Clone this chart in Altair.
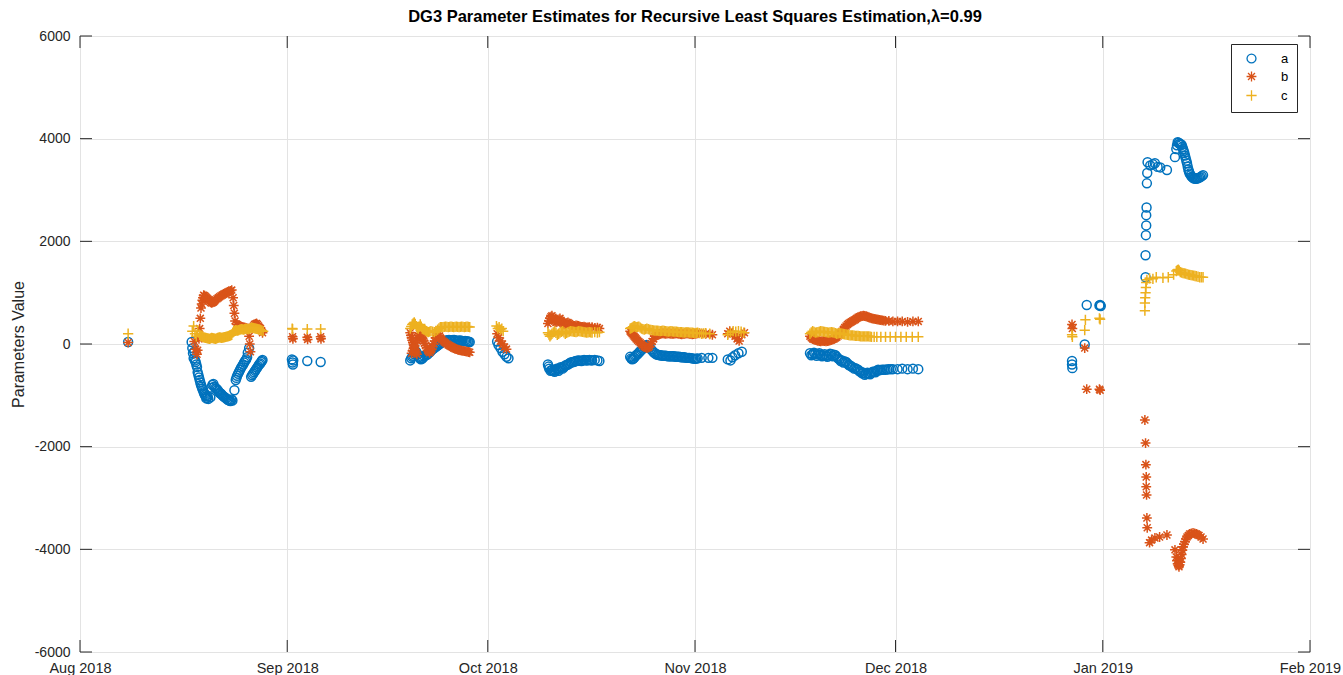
import altair as alt
import pandas as pd

# ---------------- data (day offset from 2018-08-01 00:00 UTC, value) ----------------
A_POINTS = [
    (7.2, 40),
    (16.7, 40), (16.8, -80), (16.9, -180), (17.0, -280), (17.1, -150), (17.3, -350), (17.5, -450),
    (17.6, -550), (17.8, -650), (18.0, -750), (18.2, -830), (18.4, -900), (18.6, -970), (18.8, -1020),
    (19.0, -1050), (19.2, -1070), (19.5, -1040), (19.8, -800), (20.1, -830), (20.4, -870), (20.7, -920),
    (21.0, -960), (21.3, -1000), (21.6, -1030), (21.9, -1060), (22.2, -1090), (22.5, -1110), (22.8, -1100),
    (23.1, -900), (23.3, -700), (23.5, -620), (23.8, -540), (24.1, -460), (24.4, -400), (24.7, -330),
    (25.0, -260), (25.1, -170), (25.3, -80), (25.6, -640), (25.9, -580), (26.2, -520), (26.5, -460),
    (26.8, -400), (27.1, -350), (27.3, -310),
    (17.2, -320), (17.4, -400), (17.7, -600), (17.9, -700), (18.1, -800), (18.3, -870), (18.5, -940),
    (18.7, -1000), (18.9, -1060), (19.1, -1020), (19.65, -850), (19.95, -780), (20.25, -860), (20.55, -890),
    (20.85, -950), (21.15, -980), (21.45, -1020), (21.75, -1050), (22.05, -1080), (22.35, -1100),
    (22.65, -1080), (23.4, -660), (23.65, -580), (23.95, -500), (24.25, -430), (24.55, -360), (24.85, -300),
    (25.75, -610), (26.05, -550), (26.35, -490), (26.65, -430), (26.95, -380), (27.2, -330),
    (31.7, -300), (31.8, -360), (31.85, -400), (31.9, -320), (34.0, -330), (36.0, -350),
    (49.4, -320), (49.7, -250), (50.0, -200), (50.3, -150), (50.7, -250), (51.0, -300), (51.3, -270),
    (51.7, -220), (52.0, -200), (52.4, -150), (52.8, -100), (53.2, -60), (53.6, -20), (54.0, 20),
    (54.4, 50), (54.8, 70), (55.2, 80), (55.6, 70), (56.0, 80), (56.4, 60), (56.8, 70), (57.2, 60),
    (57.6, 60), (58.0, 50), (58.3, 40),
    (49.55, -280), (49.85, -230), (50.15, -170), (50.5, -200), (50.85, -280), (51.15, -290), (51.5, -240),
    (51.85, -210), (52.2, -170), (52.6, -120), (53.0, -80), (53.4, -40), (53.8, 0), (54.2, 40), (54.6, 60),
    (55.0, 75), (55.4, 75), (55.8, 80), (56.2, 70), (56.6, 65), (57.0, 65), (57.4, 55), (57.8, 55),
    (58.15, 45),
    (62.4, 50), (62.6, -20), (62.9, -80), (63.2, -150), (63.5, -200), (63.8, -250), (64.1, -280),
    (70.0, -400), (70.2, -480), (70.4, -520), (70.7, -500), (71.0, -540), (71.3, -480), (71.6, -520),
    (71.9, -450), (72.2, -480), (72.6, -420), (73.0, -400), (73.4, -360), (73.8, -350), (74.2, -330),
    (74.6, -320), (75.0, -330), (75.4, -310), (75.8, -320), (76.2, -310), (76.6, -320), (77.0, -310),
    (77.4, -320), (77.7, -330),
    (70.1, -440), (70.55, -510), (70.85, -520), (71.15, -510), (71.45, -500), (71.75, -480), (72.05, -460),
    (72.4, -450), (72.8, -410), (73.2, -380), (73.6, -355), (74.0, -340), (74.4, -325), (74.8, -325),
    (75.2, -320), (75.6, -315), (76.0, -315), (76.4, -315),
    (82.3, -250), (82.6, -300), (82.9, -270), (83.2, -220), (83.6, -170), (84.0, -120), (84.4, -60),
    (84.8, -20), (85.2, -60), (85.6, -130), (86.0, -180), (86.4, -210), (86.8, -220), (87.2, -230),
    (87.6, -230), (88.0, -240), (88.4, -240), (88.8, -240), (89.2, -250), (89.6, -250), (90.0, -260),
    (90.4, -260), (90.8, -270), (91.2, -270), (91.6, -280), (92.0, -290), (92.4, -280), (93.0, -270),
    (94.0, -270), (94.6, -270),
    (82.45, -280), (82.75, -290), (83.05, -240), (83.4, -200), (83.8, -140), (84.2, -90), (84.6, -40),
    (85.0, -40), (85.4, -100), (85.8, -160), (86.2, -200), (86.6, -215), (87.0, -225), (87.4, -230),
    (87.8, -235), (88.2, -240), (88.6, -240), (89.0, -245), (89.4, -250), (89.8, -255), (90.2, -260),
    (90.6, -265), (91.0, -270), (91.4, -275), (91.8, -285), (92.2, -285),
    (96.9, -300), (97.3, -320), (97.6, -260), (98.0, -220), (98.5, -180), (99.0, -150),
    (109.2, -180), (109.6, -200), (110.0, -190), (110.4, -200), (110.8, -210), (111.2, -220), (111.6, -230),
    (112.0, -220), (112.4, -200), (112.8, -210), (113.2, -250), (113.6, -300), (114.0, -320), (114.4, -340),
    (114.8, -380), (115.2, -420), (115.6, -450), (116.0, -470), (116.4, -500), (116.8, -540), (117.2, -560),
    (117.6, -580), (118.0, -570), (118.4, -560), (118.8, -540), (119.2, -520), (119.6, -510), (120.0, -500),
    (120.5, -500), (121.0, -490), (121.6, -490), (122.3, -490), (123.0, -480), (123.8, -490), (124.6, -480),
    (125.4, -490),
    (109.4, -220), (109.8, -170), (110.2, -230), (110.6, -180), (111.0, -240), (111.4, -200), (111.8, -250),
    (112.2, -190), (112.6, -240), (113.0, -220), (113.4, -280), (113.8, -330), (114.2, -360), (114.6, -350),
    (115.0, -410), (115.4, -440), (115.8, -480), (116.2, -490), (116.6, -530), (117.0, -570), (117.4, -600),
    (117.8, -560), (118.2, -590), (118.6, -540), (119.0, -550), (119.4, -500), (119.8, -505), (120.25, -500),
    (120.75, -495), (121.3, -490),
    (148.4, -330), (148.4, -400), (148.45, -470), (150.3, -10), (150.6, 760), (152.5, 750), (152.6, 760),
    (152.7, 740),
    (159.4, 1300), (159.4, 1730), (159.45, 2120), (159.5, 2310), (159.5, 2510), (159.55, 2660),
    (159.6, 3130), (159.65, 3330), (159.7, 3540), (160.1, 3480), (160.5, 3500), (160.8, 3520),
    (161.2, 3450), (161.6, 3440), (162.6, 3390), (163.8, 3640), (164.0, 3800), (164.2, 3930),
    (164.5, 3900), (164.8, 3880), (165.0, 3800), (165.2, 3720), (165.4, 3620), (165.6, 3520),
    (165.8, 3400), (166.0, 3320), (166.3, 3260), (166.6, 3230), (166.9, 3220), (167.2, 3230),
    (167.6, 3250), (168.0, 3290),
    (164.1, 3870), (164.35, 3920), (164.65, 3890), (164.9, 3840), (165.1, 3760), (165.3, 3670),
    (165.5, 3570), (165.7, 3460), (165.9, 3360), (166.15, 3290), (166.45, 3240), (166.75, 3225),
    (167.05, 3225), (167.4, 3240), (167.8, 3270),
]

B_POINTS = [
    (7.2, 30),
    (17.1, 50), (17.3, -100), (17.5, -200), (17.6, -120), (17.8, 100), (17.9, 300), (18.0, 500),
    (18.1, 700), (18.3, 850), (18.5, 950), (18.8, 920), (19.1, 880), (19.4, 830), (19.7, 800),
    (20.0, 820), (20.3, 860), (20.7, 900), (21.1, 940), (21.5, 970), (21.9, 1000), (22.3, 1020),
    (22.7, 1050), (22.9, 900), (23.0, 750), (23.1, 600), (23.2, 450), (23.5, 380), (23.9, 350),
    (24.3, 330), (24.7, 320), (25.1, 300), (25.3, 150), (25.4, 0), (25.5, -150), (25.8, 320),
    (26.1, 380), (26.4, 400), (26.7, 350), (27.0, 300), (27.3, 220),
    (18.2, 780), (18.4, 900), (18.65, 940), (18.95, 900), (19.25, 860), (19.55, 810), (19.85, 810),
    (20.15, 840), (20.5, 880), (20.9, 920), (21.3, 955), (21.7, 985), (22.1, 1010), (22.5, 1035),
    (23.7, 360), (24.1, 340), (24.5, 325), (24.9, 310), (25.95, 350), (26.25, 390), (26.55, 380),
    (26.85, 320), (27.15, 260),
    (31.8, 140), (31.85, 100), (34.0, 130), (34.05, 90), (36.0, 140), (36.05, 100),
    (49.4, 220), (49.6, 120), (49.8, 30), (50.0, -60), (50.2, -150), (50.4, -200), (49.6, -180),
    (49.9, -90), (50.2, 20), (50.5, 120), (50.8, 200), (51.1, 130), (51.4, 60), (51.7, -30),
    (52.0, -120), (52.3, -170), (52.6, -100), (52.9, 0), (53.2, 120), (53.6, 200), (53.9, 120),
    (54.3, 60), (54.7, 20), (55.1, -20), (55.5, -50), (55.9, -80), (56.3, -100), (56.7, -120),
    (57.1, -130), (57.5, -140), (57.9, -150), (58.3, -160),
    (49.5, 170), (49.7, 75), (49.9, -15), (50.1, -105), (50.3, -175), (49.75, -135), (50.05, -35),
    (50.35, 70), (50.65, 160), (50.95, 165), (51.25, 95), (51.55, 15), (51.85, -75), (52.15, -145),
    (52.45, -135), (52.75, -50), (53.05, 60), (53.4, 160), (53.75, 160), (54.1, 90), (54.5, 40),
    (54.9, 0), (55.3, -35), (55.7, -65), (56.1, -90), (56.5, -110), (56.9, -125), (57.3, -135),
    (57.7, -145), (58.1, -155),
    (62.4, 200), (62.6, 120), (62.9, 60), (63.2, 0), (63.5, -60), (63.8, -100),
    (70.0, 400), (70.3, 500), (70.6, 550), (70.9, 480), (71.2, 420), (71.5, 450), (71.8, 500),
    (72.1, 430), (72.4, 380), (72.7, 400), (73.0, 420), (73.4, 380), (73.8, 340), (74.2, 360),
    (74.6, 350), (75.0, 330), (75.4, 340), (75.8, 320), (76.2, 330), (76.6, 330), (77.0, 310),
    (77.4, 320), (77.7, 300),
    (70.15, 450), (70.45, 530), (70.75, 520), (71.05, 450), (71.35, 430), (71.65, 480), (71.95, 460),
    (72.25, 400), (72.55, 390), (72.85, 410), (73.2, 400), (73.6, 360), (74.0, 350), (74.4, 355),
    (74.8, 340), (75.2, 335), (75.6, 330), (76.0, 325),
    (82.3, 250), (82.6, 200), (82.9, 150), (83.2, 100), (83.6, 50), (84.0, 0), (84.4, -50),
    (84.8, -80), (85.2, -50), (85.6, 50), (86.0, 150), (86.4, 180), (86.8, 200), (87.2, 210),
    (87.6, 200), (88.0, 210), (88.4, 200), (88.8, 200), (89.2, 210), (89.6, 200), (90.0, 190),
    (90.4, 200), (90.8, 210), (91.2, 200), (91.6, 190), (92.0, 200), (92.4, 210), (93.0, 200),
    (93.6, 200), (94.2, 190), (94.6, 180),
    (82.45, 225), (82.75, 175), (83.05, 125), (83.4, 75), (83.8, 25), (84.2, -25), (84.6, -65),
    (85.0, -70), (85.4, 0), (85.8, 100), (86.2, 165), (86.6, 190), (87.0, 205), (87.4, 205),
    (87.8, 205), (88.2, 205), (88.6, 200), (89.0, 205), (89.4, 205), (89.8, 195), (90.2, 195),
    (90.6, 205), (91.0, 205), (91.4, 195), (91.8, 195), (92.2, 205),
    (96.9, 200), (97.2, 250), (97.6, 200), (98.0, 150), (98.3, 100), (98.6, 60), (99.0, 180), (99.4, 220),
    (109.2, 150), (109.6, 100), (110.0, 80), (110.4, 60), (110.8, 50), (111.2, 60), (111.6, 50),
    (112.0, 60), (112.4, 80), (112.8, 100), (113.2, 130), (113.6, 180), (114.0, 250), (114.4, 320),
    (114.8, 380), (115.2, 420), (115.6, 450), (116.0, 480), (116.4, 520), (116.8, 540), (117.2, 550),
    (117.6, 540), (118.0, 520), (118.4, 500), (118.8, 490), (119.2, 480), (119.6, 470), (120.0, 460),
    (120.5, 450), (121.0, 450), (121.6, 440), (122.3, 440), (123.0, 440), (123.8, 430), (124.6, 440),
    (125.4, 440),
    (109.4, 120), (109.8, 90), (110.2, 70), (110.6, 55), (111.0, 55), (111.4, 55), (111.8, 55),
    (112.2, 70), (112.6, 90), (113.0, 115), (113.4, 155), (113.8, 215), (114.2, 285), (114.6, 350),
    (115.0, 400), (115.4, 435), (115.8, 465), (116.2, 500), (116.6, 530), (117.0, 545), (117.4, 545),
    (117.8, 530), (118.2, 510), (118.6, 495), (119.0, 485), (119.4, 475), (119.8, 465), (120.25, 455),
    (148.4, 380), (148.45, 300), (150.3, -80), (150.6, -880), (152.5, -880), (152.6, -900),
    (159.3, -1480), (159.4, -1930), (159.45, -2350), (159.5, -2590), (159.5, -2780), (159.55, -2940),
    (159.6, -3390), (159.65, -3580), (160.0, -3870), (160.3, -3820), (160.8, -3780), (161.5, -3760),
    (162.6, -3720), (163.8, -4010), (164.0, -4150), (164.2, -4280), (164.4, -4340), (164.6, -4250),
    (164.8, -4100), (165.0, -3950), (165.3, -3850), (165.6, -3760), (166.0, -3700), (166.5, -3680),
    (167.0, -3700), (167.4, -3730), (168.0, -3800),
    (164.1, -4220), (164.3, -4310), (164.5, -4300), (164.7, -4180), (164.9, -4020), (165.15, -3900),
    (165.45, -3800), (165.8, -3730), (166.25, -3690), (166.75, -3690), (167.2, -3715), (167.7, -3760),
]

C_POINTS = [
    (7.2, 200),
    (16.8, 250), (17.0, 350), (17.2, 200), (17.4, 150), (17.6, 250), (17.9, 180), (18.2, 150),
    (18.5, 130), (18.8, 120), (19.1, 110), (19.4, 100), (19.7, 120), (20.0, 110), (20.3, 100),
    (20.6, 120), (20.9, 130), (21.2, 120), (21.5, 130), (21.8, 140), (22.1, 150), (22.4, 160),
    (22.7, 180), (23.0, 250), (23.3, 270), (23.6, 260), (23.9, 280), (24.2, 290), (24.5, 280),
    (24.8, 300), (25.1, 290), (25.4, 300), (25.7, 320), (26.0, 310), (26.3, 300), (26.6, 290),
    (26.9, 280), (27.2, 260), (27.4, 250),
    (18.05, 160), (18.35, 140), (18.65, 125), (18.95, 115), (19.25, 105), (19.55, 110), (19.85, 115),
    (20.15, 105), (20.45, 110), (20.75, 125), (21.05, 125), (21.35, 125), (21.65, 135), (21.95, 145),
    (22.25, 155), (22.55, 170), (22.85, 220), (23.15, 260), (23.45, 265), (23.75, 270), (24.05, 285),
    (24.35, 285), (24.65, 290), (24.95, 295), (25.25, 295), (25.55, 310), (25.85, 315), (26.15, 305),
    (26.45, 295), (26.75, 285), (27.05, 270),
    (31.75, 300), (31.8, 290), (34.0, 290), (36.0, 290),
    (49.4, 300), (49.7, 380), (50.0, 420), (50.3, 350), (50.6, 300), (50.9, 380), (51.2, 300),
    (51.5, 280), (51.8, 250), (52.1, 230), (52.5, 250), (53.0, 230), (53.5, 280), (53.9, 330),
    (54.3, 330), (54.7, 340), (55.1, 330), (55.5, 340), (55.9, 330), (56.3, 340), (56.7, 330),
    (57.1, 340), (57.5, 330), (57.9, 340), (58.3, 330),
    (49.55, 340), (49.85, 400), (50.15, 390), (50.45, 320), (50.75, 340), (51.05, 340), (51.35, 290),
    (51.65, 265), (51.95, 240), (52.3, 240), (52.75, 240), (53.25, 255), (53.7, 305), (54.1, 330),
    (54.5, 335), (54.9, 335), (55.3, 335), (55.7, 335), (56.1, 335), (56.5, 335), (56.9, 335),
    (57.3, 335), (57.7, 335), (58.1, 335),
    (62.3, 350), (62.5, 300), (62.7, 330), (62.9, 280), (63.1, 300), (63.3, 250),
    (70.0, 220), (70.3, 150), (70.6, 200), (71.0, 250), (71.4, 180), (71.8, 220), (72.2, 250),
    (72.6, 200), (73.0, 230), (73.4, 250), (73.8, 240), (74.2, 230), (74.6, 250), (75.0, 240),
    (75.4, 230), (75.8, 220), (76.2, 230), (76.6, 220), (77.0, 230), (77.4, 220), (77.7, 230),
    (70.15, 185), (70.45, 175), (70.8, 225), (71.2, 215), (71.6, 200), (72.0, 235), (72.4, 225),
    (72.8, 215), (73.2, 240), (73.6, 245), (74.0, 235), (74.4, 240), (74.8, 245), (75.2, 235),
    (75.6, 225), (76.0, 225), (76.4, 225),
    (82.3, 300), (82.6, 320), (82.9, 350), (83.2, 330), (83.6, 340), (84.0, 300), (84.4, 280),
    (84.8, 300), (85.2, 280), (85.6, 270), (86.0, 260), (86.4, 260), (86.8, 250), (87.2, 260),
    (87.6, 250), (88.0, 240), (88.4, 250), (88.8, 240), (89.2, 240), (89.6, 230), (90.0, 230),
    (90.4, 220), (90.8, 230), (91.2, 220), (91.6, 220), (92.0, 210), (92.4, 220), (93.0, 200),
    (93.6, 210), (94.2, 200),
    (82.45, 310), (82.75, 335), (83.05, 340), (83.4, 335), (83.8, 320), (84.2, 290), (84.6, 290),
    (85.0, 290), (85.4, 275), (85.8, 265), (86.2, 260), (86.6, 255), (87.0, 255), (87.4, 255),
    (87.8, 245), (88.2, 245), (88.6, 245), (89.0, 240), (89.4, 235), (89.8, 230), (90.2, 225),
    (90.6, 225), (91.0, 225), (91.4, 220), (91.8, 215), (92.2, 215), (92.7, 210), (93.3, 205),
    (96.9, 180), (97.3, 220), (97.7, 250), (98.1, 240), (98.5, 250), (98.9, 240), (99.3, 220),
    (109.2, 200), (109.6, 250), (110.0, 220), (110.4, 230), (110.8, 250), (111.2, 240), (111.6, 230),
    (112.0, 220), (112.4, 230), (112.8, 220), (113.2, 200), (113.6, 210), (114.0, 200), (114.4, 190),
    (114.8, 180), (115.2, 170), (115.6, 170), (116.0, 160), (116.4, 160), (116.8, 150), (117.2, 150),
    (117.6, 150), (118.0, 150), (118.4, 140), (118.8, 140), (119.2, 140), (119.8, 140), (120.5, 140),
    (121.2, 140), (122.0, 140), (122.8, 140), (123.6, 140), (124.5, 140), (125.4, 140),
    (109.4, 225), (109.8, 235), (110.2, 225), (110.6, 240), (111.0, 245), (111.4, 235), (111.8, 225),
    (112.2, 225), (112.6, 225), (113.0, 210), (113.4, 205), (113.8, 205), (114.2, 195), (114.6, 185),
    (115.0, 175), (115.4, 170), (115.8, 165), (116.2, 160), (116.6, 155), (117.0, 150), (117.4, 150),
    (117.8, 150), (118.2, 145),
    (148.4, 180), (148.45, 140), (150.3, 270), (150.4, 470), (152.5, 500), (152.6, 480),
    (159.3, 650), (159.3, 800), (159.35, 900), (159.4, 1000), (159.45, 1100), (159.5, 1200),
    (159.6, 1250), (160.0, 1280), (160.5, 1270), (161.0, 1300), (162.0, 1290), (162.8, 1300),
    (163.6, 1350), (164.0, 1420), (164.3, 1450), (164.6, 1400), (165.0, 1380), (165.4, 1370),
    (165.8, 1350), (166.2, 1340), (166.6, 1330), (167.0, 1320), (167.5, 1300), (168.0, 1300),
    (164.15, 1440), (164.45, 1430), (164.8, 1390), (165.2, 1375), (165.6, 1360), (166.0, 1345),
    (166.4, 1335), (166.8, 1325), (167.25, 1310), (167.75, 1300),
]

SERIES = ["a", "b", "c"]
COLORS = ["#0072BD", "#D95319", "#EDB120"]
X_TICKS = ["2018-08-01", "2018-09-01", "2018-10-01", "2018-11-01",
           "2018-12-01", "2019-01-01", "2019-02-01"]
Y_TICKS = [-6000, -4000, -2000, 0, 2000, 4000, 6000]
TITLE = "DG3 Parameter Estimates for Recursive Least Squares Estimation,\u03bb=0.99"
Y_TITLE = "Parameters Value"

# ---------------- build table ----------------
base = pd.Timestamp("2018-08-01")
rows = []
for name, pts in zip(SERIES, [A_POINTS, B_POINTS, C_POINTS]):
    for d, v in pts:
        t = base + pd.Timedelta(days=d)
        rows.append({"series": name, "date": t.strftime("%Y-%m-%dT%H:%M:%SZ"), "value": v})
df = pd.DataFrame(rows)
df["order"] = range(len(df))

xtick_df = pd.DataFrame({"date": [d + "T00:00:00Z" for d in X_TICKS]})
ytick_df = pd.DataFrame({"value": Y_TICKS})

W, H = 1230, 616
FONT = "Liberation Sans"
AX = "#262626"

CIRCLE = "circle"
STAR = "M-1.1,0L1.1,0M0,-1.1L0,1.1M-0.78,-0.78L0.78,0.78M-0.78,0.78L0.78,-0.78"
PLUS = "M-1.15,0L1.15,0M0,-1.15L0,1.15"


def dt(s):
    y, m, d = s.split("-")
    return alt.DateTime(year=int(y), month=int(m), date=int(d), utc=True)


x_enc = alt.X(
    "date:T",
    title="",
    scale=alt.Scale(type="utc", domain=[dt(X_TICKS[0]), dt(X_TICKS[-1])], nice=False),
    axis=alt.Axis(values=[dt(s) for s in X_TICKS], labelExpr="utcFormat(datum.value, '%b %Y')",
                  labelFlush=False, labelOverlap=False, ticks=False, domain=False,
                  grid=True, gridColor="#e3e3e3", gridWidth=1,
                  labelFont=FONT, labelFontSize=14.5, labelColor=AX, labelPadding=9),
)
y_enc = alt.Y(
    "value:Q",
    title=Y_TITLE,
    scale=alt.Scale(domain=[-6000, 6000], nice=False, zero=False),
    axis=alt.Axis(values=Y_TICKS, labelExpr="'' + datum.value", ticks=False, domain=False,
                  grid=True, gridColor="#e3e3e3", gridWidth=1, labelOverlap=False,
                  labelFont=FONT, labelFontSize=14, labelColor=AX, labelPadding=10,
                  titleFont=FONT, titleFontSize=16, titleFontWeight="normal", titleColor=AX,
                  titlePadding=8),
)

legend = alt.Legend(orient="none", legendX=1151, legendY=8, strokeColor=AX, fillColor="white",
                    padding=8, labelFont=FONT, labelFontSize=13, labelColor="#000000",
                    symbolStrokeWidth=1.3, symbolSize=80, labelOffset=23, symbolOffset=6,
                    rowPadding=2)

points = alt.Chart(df).mark_point(filled=False, strokeWidth=1.5, size=80, opacity=1).encode(
    x=x_enc,
    y=y_enc,
    color=alt.Color("series:N", scale=alt.Scale(domain=SERIES, range=COLORS), title=None, legend=legend),
    shape=alt.Shape("series:N", scale=alt.Scale(domain=SERIES, range=[CIRCLE, STAR, PLUS]), title=None,
                    legend=legend),
    order=alt.Order("order:Q"),
)

xt_top = alt.Chart(xtick_df).mark_rule(color=AX, strokeWidth=1).encode(
    x=x_enc, y=alt.value(0), y2=alt.value(12))
xt_bot = alt.Chart(xtick_df).mark_rule(color=AX, strokeWidth=1).encode(
    x=x_enc, y=alt.value(H - 12), y2=alt.value(H))
yt_left = alt.Chart(ytick_df).mark_rule(color=AX, strokeWidth=1).encode(
    y=y_enc, x=alt.value(0), x2=alt.value(12))
yt_right = alt.Chart(ytick_df).mark_rule(color=AX, strokeWidth=1).encode(
    y=y_enc, x=alt.value(W - 12), x2=alt.value(W))

chart = alt.layer(points, xt_top, xt_bot, yt_left, yt_right).properties(
    width=W,
    height=H,
    title=alt.TitleParams(TITLE, font=FONT, fontSize=16.5, fontWeight="bold", color="#000000",
                          anchor="middle", offset=4),
    autosize=alt.AutoSizeParams(type="none"),
    padding={"left": 80, "top": 36, "right": 33, "bottom": 23},
).configure_view(stroke=AX, strokeWidth=1).configure(background="white")

chart.save("out.html", embed_options={"renderer": "svg", "actions": False})
